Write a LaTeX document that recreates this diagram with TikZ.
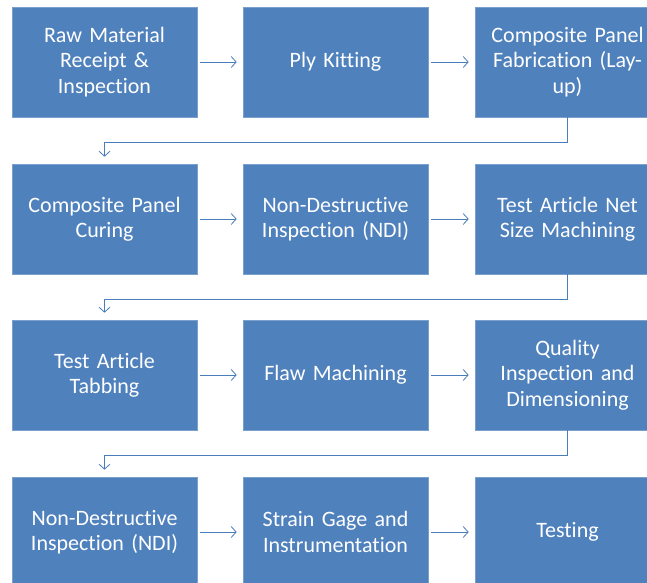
\documentclass[tikz,border=0pt]{standalone}
\usepackage{fontspec}
\setmainfont{Carlito}[Ligatures=NoCommon, WordSpace=0.8]
\usetikzlibrary{arrows.meta}

\definecolor{stepblue}{HTML}{4F81BD}
\definecolor{linkblue}{HTML}{4A7EBB}

\begin{document}
\begin{tikzpicture}[x=1pt, y=-1pt,
    stage/.style={rectangle, fill=stepblue, draw=stepblue!75!white, line width=0.6pt,
      minimum width=185pt, minimum height=110pt, inner sep=0pt, text width=178pt,
      align=center, text=white, font=\fontsize{22}{25.5}\selectfont},
    flow/.style={draw=linkblue, line width=0.8pt,
      -{Straight Barb[length=5pt, width=11pt]}, shorten <=3pt, shorten >=6pt},
    turn/.style={draw=linkblue, line width=0.8pt,
      -{Straight Barb[length=5pt, width=11pt]}, shorten >=7pt}]
  \useasboundingbox (0,0) rectangle (647,582);
  \clip (0,0) rectangle (647,582);

  % first row
  \node[stage] (raw) at (104.5,62) {Raw Material\\Receipt \&\\Inspection};
  \node[stage] (kit) at (335.5,62) {Ply Kitting};
  \node[stage] (layup) at (567.5,62) {Composite Panel\\Fabrication (Lay-\\up)};
  % second row
  \node[stage] (cure) at (104.5,219) {Composite Panel\\Curing};
  \node[stage] (ndia) at (335.5,219) {Non-Destructive\\Inspection (NDI)};
  \node[stage] (net) at (567.5,219) {Test Article Net\\Size Machining};
  % third row
  \node[stage] (tab) at (104.5,375) {Test Article\\Tabbing};
  \node[stage] (flaw) at (335.5,375) {Flaw Machining};
  \node[stage] (qual) at (567.5,375) {Quality\\Inspection and\\Dimensioning};
  % fourth row
  \node[stage] (ndib) at (104.5,532) {Non-Destructive\\Inspection (NDI)};
  \node[stage] (gage) at (335.5,532) {Strain Gage and\\Instrumentation};
  \node[stage] (test) at (567.5,532) {Testing};

  % arrows along each row
  \draw[flow] (raw) -- (kit);
  \draw[flow] (kit) -- (layup);
  \draw[flow] (cure) -- (ndia);
  \draw[flow] (ndia) -- (net);
  \draw[flow] (tab) -- (flaw);
  \draw[flow] (flaw) -- (qual);
  \draw[flow] (ndib) -- (gage);
  \draw[flow] (gage) -- (test);

  % back to the first column
  \draw[turn] (layup.south) -- ++(0,25) -| (cure.north);
  \draw[turn] (net.south) -- ++(0,25) -| (tab.north);
  \draw[turn] (qual.south) -- ++(0,25) -| (ndib.north);
\end{tikzpicture}
\end{document}
